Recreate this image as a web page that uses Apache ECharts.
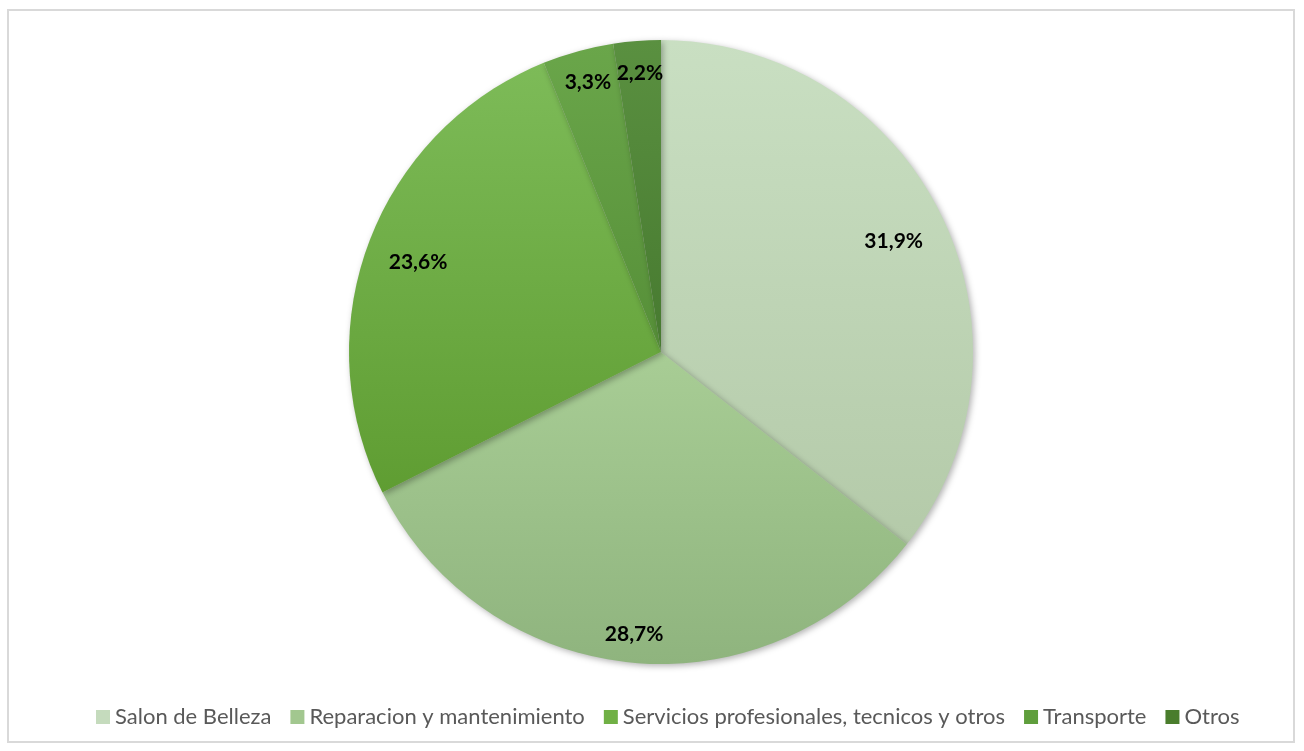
<!DOCTYPE html>
<html>
<head>
<meta charset="utf-8">
<script src="https://cdn.jsdelivr.net/npm/echarts@6/dist/echarts.min.js"></script>
<style>
html,body{margin:0;padding:0;background:#fff;}
#frame{position:absolute;left:7px;top:9px;width:1288px;height:734px;border:2px solid #d9d9d9;box-sizing:border-box;}
#chart{position:absolute;left:0;top:0;width:1304px;height:751px;}
</style>
</head>
<body>
<div id="frame"></div>
<div id="chart"></div>
<script>
const categories = ['Salon de Belleza', 'Reparacion y mantenimiento', 'Servicios profesionales, tecnicos y otros', 'Transporte', 'Otros'];
const values = [31.9, 28.7, 23.6, 3.3, 2.2];
const topColors = ['#c9dfc2', '#a8cd95', '#7dbb58', '#6aa64a', '#5a9040'];
const bottomColors = ['#b4caa9', '#8fb47e', '#5f9d32', '#568f38', '#477a30'];
const legendColors = ['#c5dbbd', '#a2c78f', '#70b045', '#5f9e3c', '#4a7d2c'];
// label nudges (style only)
const labelNudge = [[-14, 9], [0, 9], [14, 7], [0, -5], [0, -5]];

const chart = echarts.init(document.getElementById('chart'));
const R = 312;
const center = [661, 352];

function grad(i) {
  return new echarts.graphic.LinearGradient(0, 0, 0, 1, [
    {offset: 0, color: topColors[i]},
    {offset: 1, color: bottomColors[i]}
  ]);
}

chart.setOption({
  animation: false,
  legend: {
    top: 701,
    left: 91,
    itemWidth: 14,
    itemHeight: 14,
    itemGap: 19,
    icon: 'rect',
    textStyle: {color: '#595959', fontSize: 22, fontFamily: 'Lato, "Open Sans", sans-serif'},
    data: categories.map((c, i) => ({name: c, itemStyle: {color: legendColors[i]}}))
  },
  series: [
    {
      type: 'pie',
      center: center,
      radius: [0, R],
      startAngle: 90,
      clockwise: true,
      label: {show: false},
      labelLine: {show: false},
      itemStyle: {
        borderWidth: 0,
        shadowBlur: 6,
        shadowOffsetX: 2,
        shadowOffsetY: 2,
        shadowColor: 'rgba(0,0,0,0.3)'
      },
      data: categories.map((c, i) => ({name: c, value: values[i], itemStyle: {color: grad(i)}}))
    },
    {
      type: 'pie',
      center: center,
      radius: [R * 0.74, R],
      startAngle: 90,
      clockwise: true,
      silent: true,
      legendHoverLink: false,
      itemStyle: {color: 'rgba(0,0,0,0)'},
      label: {
        show: true,
        position: 'inside',
        color: '#000',
        fontWeight: 'bold',
        fontSize: 21,
        fontFamily: 'Lato, "Open Sans", sans-serif',
        formatter: p => String(values[p.dataIndex].toFixed(1)).replace('.', ',') + '%'
      },
      labelLine: {show: false},
      data: categories.map((c, i) => ({name: c + ' ', value: values[i], label: {offset: labelNudge[i]}}))
    }
  ]
});
</script>
</body>
</html>
